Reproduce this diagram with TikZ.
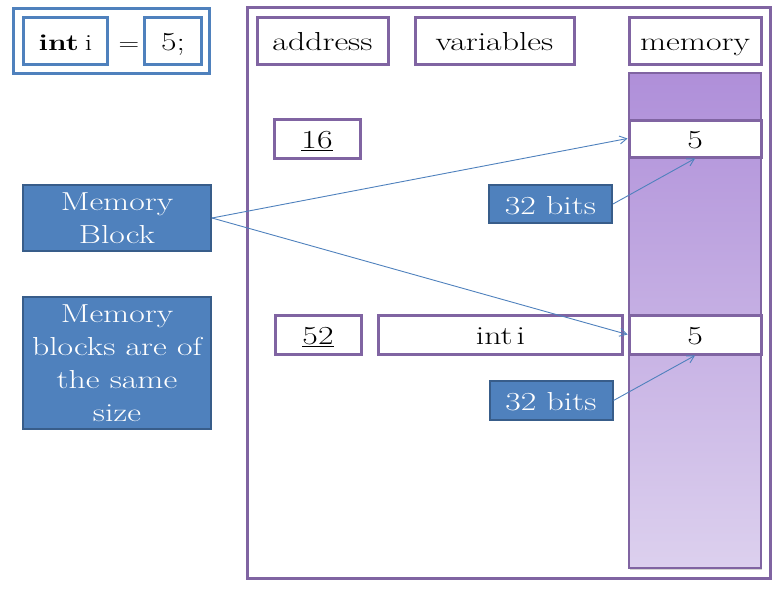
\documentclass[tikz,border=0pt]{standalone}
\usepackage{fontspec}
\setmainfont{Latin Modern Roman}[FakeStretch=1.3]
\usetikzlibrary{arrows.meta,shadows}
\definecolor{purp}{HTML}{8064A2}
\definecolor{blu}{HTML}{4F81BD}
\definecolor{bludk}{HTML}{385D8A}
\definecolor{coltop}{HTML}{AF8FD9}
\definecolor{colbot}{HTML}{DCD0EE}
\begin{document}
\begin{tikzpicture}[x=1pt,y=-1pt,
  font=\fontsize{26}{33}\selectfont,
  oneline/.style={text height=20pt,text depth=0pt},
  pbox/.style={draw=purp,line width=3pt,fill=white,inner sep=0pt,align=center,oneline},
  bbox/.style={draw=blu,line width=3pt,fill=white,inner sep=0pt,align=center,oneline},
  fbox/.style={draw=bludk,line width=2pt,fill=blu,text=white,inner sep=0pt,align=center},
  conn/.style={draw=blu,line width=0.9pt,-{Straight Barb[length=7pt,width=8pt]}}]
\useasboundingbox (0,0) rectangle (782,592);
% top-left statement
\node[draw=blu,line width=3pt,minimum width=196pt,minimum height=65pt,inner sep=0pt] (stmt) at (111,40.5) {};
\node[bbox,minimum width=84pt,minimum height=47pt,font=\fontsize{23}{28}\selectfont] (intbox) at (65.5,40.5) {\textbf{int}\kern6pt i};
\node[bbox,minimum width=57pt,minimum height=47pt] (fivebox) at (173,40.5) {5;};
\node[oneline,inner sep=0pt,font=\fontsize{22}{28}\selectfont] (eq) at (129,40.5) {=};
% big frame
\node[draw=purp,line width=3pt,minimum width=523pt,minimum height=571pt,inner sep=0pt] (frame) at (509,292.5) {};
% memory column
\node[draw=purp,line width=1.2pt,top color=coltop,bottom color=colbot,
  minimum width=132pt,minimum height=495pt,inner sep=0pt,
  drop shadow={shadow xshift=1pt,shadow yshift=-2pt,opacity=0.35}] (col) at (695,320.5) {};
% headers
\node[pbox,minimum width=131pt,minimum height=47pt] (addr) at (322.5,40.5) {address};
\node[pbox,minimum width=159pt,minimum height=47pt] (vars) at (494.5,40.5) {variables};
\node[pbox,minimum width=132pt,minimum height=47pt] (mem) at (695,40.5) {memory};
% row 16
\node[pbox,minimum width=86pt,minimum height=39pt] (a16) at (317,138.5) {\underline{16}};
\node[pbox,minimum width=132pt,minimum height=37pt] (m1) at (695,138.5) {5};
% row 52
\node[pbox,minimum width=86pt,minimum height=39pt] (a52) at (318,334.5) {\underline{52}};
\node[pbox,minimum width=244pt,minimum height=39pt] (v52) at (500.5,334.5) {int\kern4pt i};
\node[pbox,minimum width=132pt,minimum height=39pt] (m2) at (695,334.5) {5};
% labels
\node[fbox,minimum width=188pt,minimum height=66pt] (mb) at (117,218) {Memory\\Block};
\node[fbox,minimum width=188pt,minimum height=132pt] (mbs) at (117,363) {Memory\\blocks are of\\the same\\size};
\node[fbox,oneline,minimum width=123pt,minimum height=38pt] (b1) at (550.5,204) {32 bits};
\node[fbox,oneline,minimum width=123pt,minimum height=39pt] (b2) at (551,400.5) {32 bits};
% connectors
\draw[conn] (mb.east) -- (m1.west);
\draw[conn] (mb.east) -- (m2.west);
\draw[conn] (b1.east) -- (m1.south);
\draw[conn] (b2.east) -- (m2.south);
\end{tikzpicture}
\end{document}
